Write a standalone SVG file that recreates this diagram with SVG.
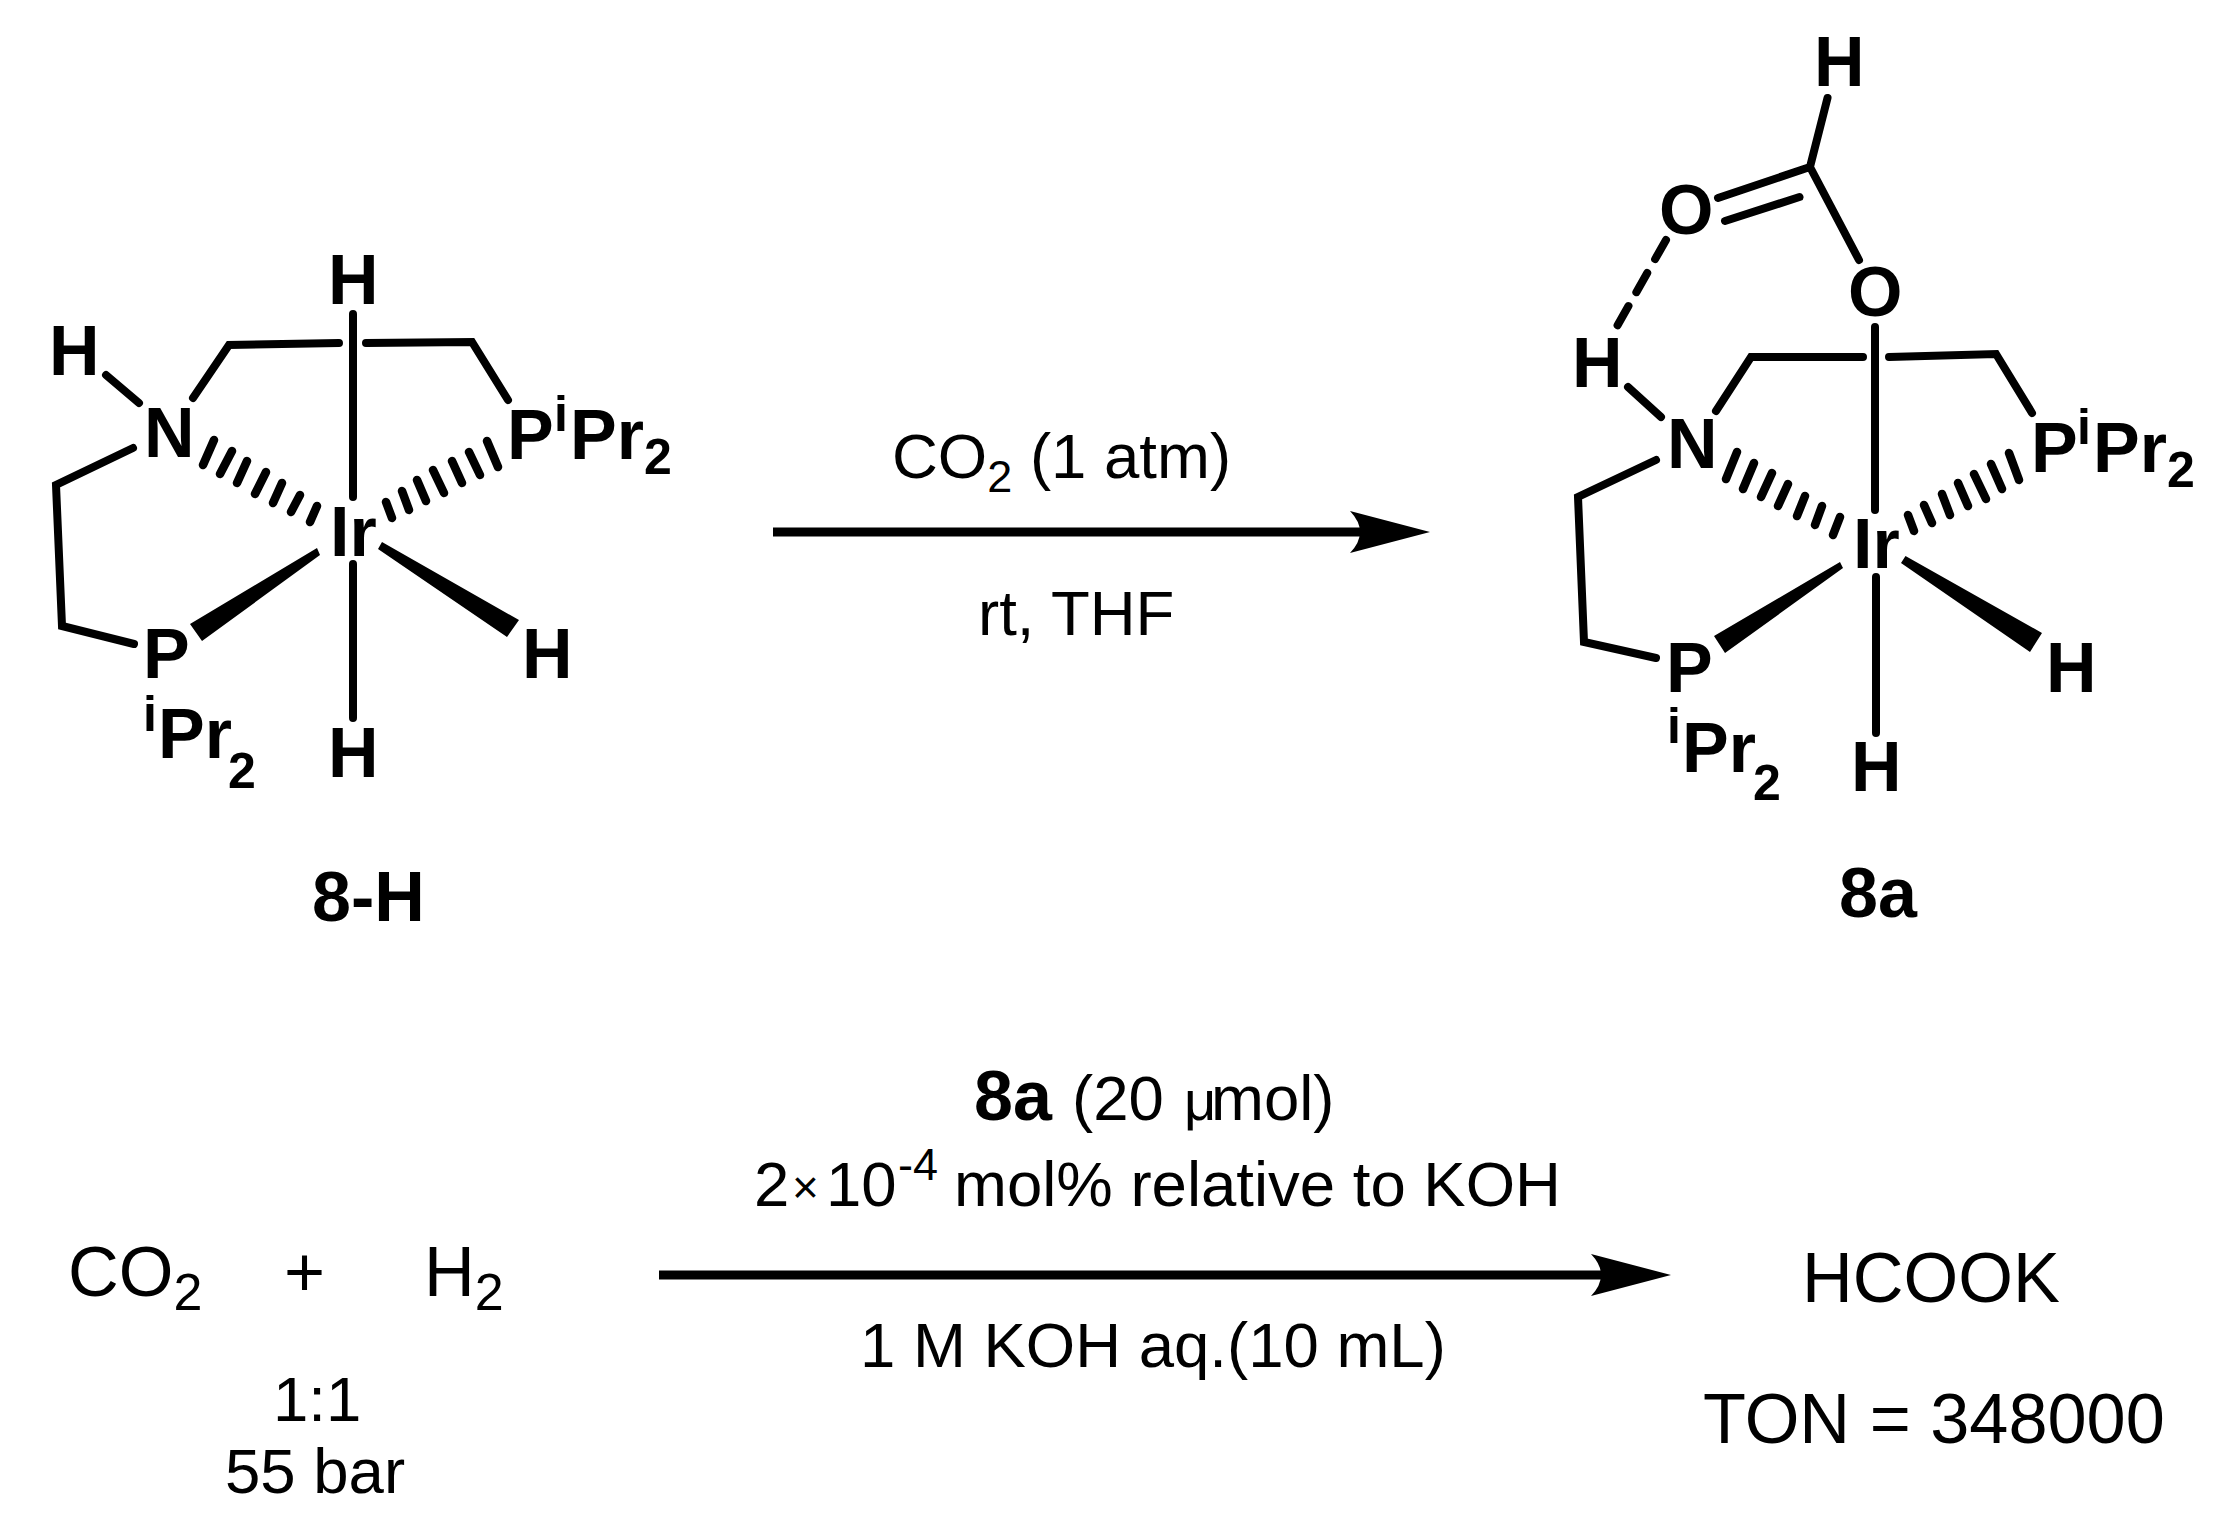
<svg xmlns="http://www.w3.org/2000/svg" width="2215" height="1517" viewBox="0 0 2215 1517">
<defs>
<marker id="ah" markerUnits="userSpaceOnUse" markerWidth="84" markerHeight="44" refX="12" refY="21" orient="auto"><path d="M0 0L80 21L0 42Q20 21 0 0Z" fill="#000"/></marker>
<style>
text{font-family:"Liberation Sans",Arial,sans-serif;fill:#000}
.a{font-weight:700;font-size:70px}
.m{font-weight:700;font-size:50px}
.r{font-size:63.500px}
.l{font-size:70.300px}
.s{font-size:45px}
.ss{font-size:52px}
.b{stroke:#000;stroke-width:8;fill:none;stroke-linejoin:miter;stroke-linecap:round}
.h{stroke:#000;stroke-width:8.500;fill:none;stroke-linecap:round}
.w{fill:#000}
.c{stroke:#000;stroke-width:9;fill:none}
</style>
</defs>
<rect width="2215" height="1517" fill="#fff"/>
<g id="connectors">
<path class="c" d="M773 532H1362" marker-end="url(#ah)"/>
<path class="c" d="M659 1275H1603" marker-end="url(#ah)"/>
</g>
<g id="node-8H">
<path class="b" d="M106 375L139 403M133 448L56 485L62 626L134 644M193 398L229 345L339 343M366 343L472 342L508 400M353 314V497M353 564V718"/>
<path class="h" d="M214 440L203 465M232 451L220 474M247 461L237 483M266 472L255 494M282 483L273 503M300 495L291 512M317 506L310 522M487 441L498 467M469 452L480 475M452 461L462 483M433 470L444 493M417 480L426 501M402 491L409 510M386 502L392 518"/>
<path class="w" d="M190 624L202 641L320 555L317 548ZM382 542L378 549L507 637L519 620Z"/>
<text class="a" x="49" y="375">H</text><text class="a" x="144" y="457">N</text><text class="a" x="328" y="304">H</text><text class="a" x="507" y="459">P</text><text class="m" x="554" y="431">i</text><text class="a" x="570" y="459">Pr</text><text class="m" x="644" y="474">2</text><text class="a" x="330" y="556">Ir</text><text class="a" x="143" y="678">P</text><text class="m" x="143" y="731">i</text><text class="a" x="158" y="758">Pr</text><text class="m" x="228" y="788">2</text><text class="a" x="522" y="678">H</text><text class="a" x="328" y="777">H</text><text class="a" x="312" y="921">8-H</text>
</g>
<g id="node-8a">
<path class="b" d="M1628 387L1661 417M1656 460L1578 497L1584 642L1656 658M1716 411L1751 357L1863 357M1889 357L1996 354L2032 413M1875 327V510M1876 577V733M1827.500 98L1810 167L1718 198M1725 221L1799.500 197M1810 167L1859 260"/>
<path class="b" d="M1666 240L1616 328" stroke-dasharray="22 16"/>
<path class="h" d="M1737 452L1726 479M1754 463L1743 489M1772 473L1761 497M1788 484L1778 506M1805 496L1797 516M1822 506L1815 525M1840 517L1833 535M2009 453L2019 480M1991 464L2002 489M1974 474L1986 499M1958 483L1968 506M1942 494L1950 515M1924 505L1932 523M1908 515L1914 531"/>
<path class="w" d="M1714 636L1725 653L1843 568L1840 562ZM1905.500 556L1901 563L2030 652L2042 633Z"/>
<text class="a" x="1814" y="86">H</text><text class="a" x="1659" y="234">O</text><text class="a" x="1848" y="316">O</text><text class="a" x="1572" y="387">H</text><text class="a" x="1667" y="468">N</text><text class="a" x="1853" y="568">Ir</text><text class="a" x="2031" y="472">P</text><text class="m" x="2077" y="444">i</text><text class="a" x="2093" y="472">Pr</text><text class="m" x="2167" y="487">2</text><text class="a" x="1666" y="692">P</text><text class="m" x="1667" y="743">i</text><text class="a" x="1682" y="772">Pr</text><text class="m" x="1753" y="800">2</text><text class="a" x="2046" y="692">H</text><text class="a" x="1851" y="791">H</text><text class="a" x="1839" y="917">8a</text>
</g>
<g id="labels">
<text class="r" x="892" y="478">CO<tspan class="s" dy="14">2</tspan><tspan dy="-14"> (1 atm)</tspan></text>
<text class="r" x="978" y="635">rt, THF</text>
<text class="a" x="974" y="1120">8a</text>
<text class="r" x="1072" y="1120">(20<tspan font-size="56" x="1184">μ</tspan><tspan x="1211">mol)</tspan></text>
<text class="r" x="754" y="1206">2<tspan font-size="46" x="792" dy="-3">×</tspan><tspan x="826" dy="3">10</tspan><tspan class="s" x="898" y="1180">-4</tspan><tspan x="954" y="1206">mol% relative to KOH</tspan></text>
<text class="r" x="860" y="1367">1 M KOH aq.(10 mL)</text>
</g>
<g id="reactants"><text class="l" x="68" y="1296">CO<tspan class="ss" dy="14">2</tspan></text><text class="l" x="284" y="1296">+</text><text class="l" x="424" y="1296">H<tspan class="ss" dy="14">2</tspan></text><text class="r" x="273" y="1421">1:1</text><text class="r" x="225" y="1493">55 bar</text></g>
<g id="products"><text class="l" x="1802" y="1302">HCOOK</text><text class="l" x="1703" y="1443">TON = 348000</text></g>
</svg>
